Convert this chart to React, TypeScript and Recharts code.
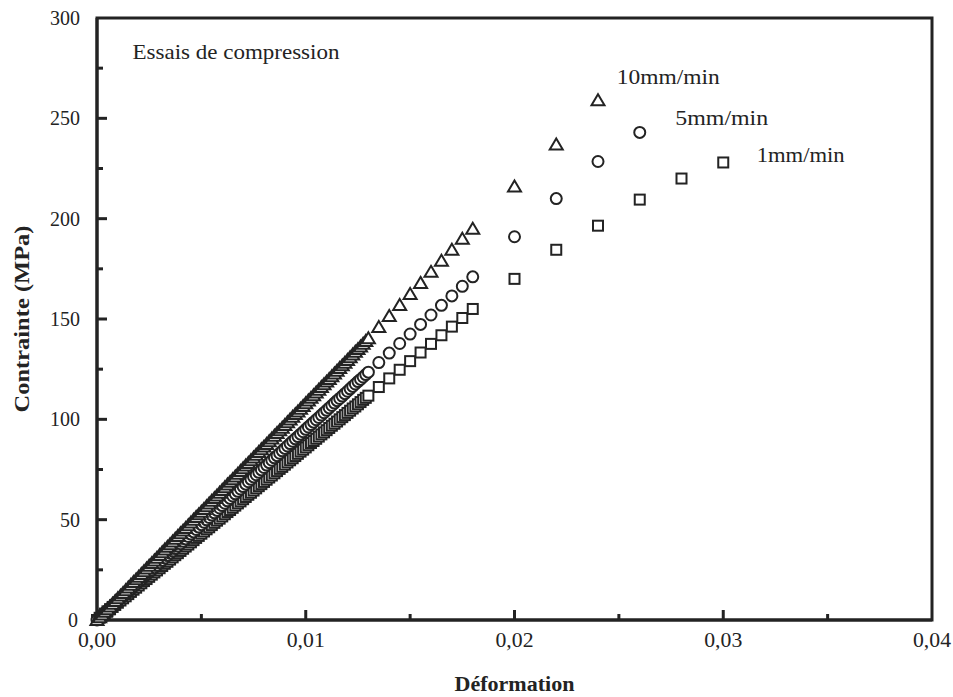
import React from 'react';
import {
  ReferenceArea,
  ReferenceDot,
  Scatter,
  ScatterChart,
  XAxis,
  YAxis,
} from 'recharts';

// strain steps of the dense recording (shared by the three speeds), one row per 0.001
const strainDense = [
  0, 0.000125, 0.00025, 0.000375, 0.0005, 0.000625, 0.00075, 0.000875,
  0.001, 0.001125, 0.00125, 0.001375, 0.0015, 0.001625, 0.00175, 0.001875,
  0.002, 0.002125, 0.00225, 0.002375, 0.0025, 0.002625, 0.00275, 0.002875,
  0.003, 0.003125, 0.00325, 0.003375, 0.0035, 0.003625, 0.00375, 0.003875,
  0.004, 0.004125, 0.00425, 0.004375, 0.0045, 0.004625, 0.00475, 0.004875,
  0.005, 0.005125, 0.00525, 0.005375, 0.0055, 0.005625, 0.00575, 0.005875,
  0.006, 0.006125, 0.00625, 0.006375, 0.0065, 0.006625, 0.00675, 0.006875,
  0.007, 0.007125, 0.00725, 0.007375, 0.0075, 0.007625, 0.00775, 0.007875,
  0.008, 0.008125, 0.00825, 0.008375, 0.0085, 0.008625, 0.00875, 0.008875,
  0.009, 0.009125, 0.00925, 0.009375, 0.0095, 0.009625, 0.00975, 0.009875,
  0.01, 0.010125, 0.01025, 0.010375, 0.0105, 0.010625, 0.01075, 0.010875,
  0.011, 0.011125, 0.01125, 0.011375, 0.0115, 0.011625, 0.01175, 0.011875,
  0.012, 0.012125, 0.01225, 0.012375, 0.0125, 0.012625, 0.01275, 0.012875,
  0.013, 0.0135, 0.014, 0.0145, 0.015, 0.0155, 0.016, 0.0165, 0.017, 0.0175, 0.018,
];

const stress10Dense = [
  0, 1.35, 2.7, 4.05, 5.4, 6.75, 8.1, 9.45,
  10.8, 12.15, 13.5, 14.85, 16.2, 17.55, 18.9, 20.25,
  21.6, 22.95, 24.3, 25.65, 27.0, 28.35, 29.7, 31.05,
  32.4, 33.75, 35.1, 36.45, 37.8, 39.15, 40.5, 41.85,
  43.2, 44.55, 45.9, 47.25, 48.6, 49.95, 51.3, 52.65,
  54.0, 55.35, 56.7, 58.05, 59.4, 60.75, 62.1, 63.45,
  64.8, 66.15, 67.5, 68.85, 70.2, 71.55, 72.9, 74.25,
  75.6, 76.95, 78.3, 79.65, 81.0, 82.35, 83.7, 85.05,
  86.4, 87.75, 89.1, 90.45, 91.8, 93.15, 94.5, 95.85,
  97.2, 98.55, 99.9, 101.25, 102.6, 103.95, 105.3, 106.65,
  108.0, 109.35, 110.7, 112.05, 113.4, 114.75, 116.1, 117.45,
  118.8, 120.15, 121.5, 122.85, 124.2, 125.55, 126.9, 128.25,
  129.6, 130.95, 132.3, 133.65, 135.0, 136.35, 137.7, 139.05,
  140.4, 146.0, 151.5, 157.0, 162.5, 168.0, 173.5, 179.0, 184.5, 190.0, 195.0,
];

const stress5Dense = [
  0, 1.2, 2.4, 3.6, 4.8, 5.9, 7.1, 8.3,
  9.5, 10.7, 11.9, 13.1, 14.3, 15.4, 16.6, 17.8,
  19.0, 20.2, 21.4, 22.6, 23.8, 24.9, 26.1, 27.3,
  28.5, 29.7, 30.9, 32.1, 33.3, 34.4, 35.6, 36.8,
  38.0, 39.2, 40.4, 41.6, 42.8, 43.9, 45.1, 46.3,
  47.5, 48.7, 49.9, 51.1, 52.3, 53.4, 54.6, 55.8,
  57.0, 58.2, 59.4, 60.6, 61.8, 62.9, 64.1, 65.3,
  66.5, 67.7, 68.9, 70.1, 71.3, 72.4, 73.6, 74.8,
  76.0, 77.2, 78.4, 79.6, 80.8, 81.9, 83.1, 84.3,
  85.5, 86.7, 87.9, 89.1, 90.3, 91.4, 92.6, 93.8,
  95.0, 96.2, 97.4, 98.6, 99.8, 100.9, 102.1, 103.3,
  104.5, 105.7, 106.9, 108.1, 109.3, 110.4, 111.6, 112.8,
  114.0, 115.2, 116.4, 117.6, 118.8, 119.9, 121.1, 122.3,
  123.5, 128.3, 133.0, 137.8, 142.5, 147.3, 152.0, 156.8, 161.5, 166.3, 171.0,
];

const stress1Dense = [
  0, 1.1, 2.2, 3.2, 4.3, 5.4, 6.5, 7.5,
  8.6, 9.7, 10.8, 11.8, 12.9, 14.0, 15.1, 16.1,
  17.2, 18.3, 19.4, 20.4, 21.5, 22.6, 23.7, 24.7,
  25.8, 26.9, 28.0, 29.0, 30.1, 31.2, 32.3, 33.3,
  34.4, 35.5, 36.6, 37.6, 38.7, 39.8, 40.9, 41.9,
  43.0, 44.1, 45.2, 46.2, 47.3, 48.4, 49.5, 50.5,
  51.6, 52.7, 53.8, 54.8, 55.9, 57.0, 58.1, 59.1,
  60.2, 61.3, 62.4, 63.4, 64.5, 65.6, 66.7, 67.7,
  68.8, 69.9, 71.0, 72.0, 73.1, 74.2, 75.3, 76.3,
  77.4, 78.5, 79.6, 80.6, 81.7, 82.8, 83.9, 84.9,
  86.0, 87.1, 88.2, 89.2, 90.3, 91.4, 92.5, 93.5,
  94.6, 95.7, 96.8, 97.8, 98.9, 100.0, 101.1, 102.1,
  103.2, 104.3, 105.4, 106.4, 107.5, 108.6, 109.7, 110.7,
  111.8, 116.1, 120.4, 124.7, 129.0, 133.3, 137.6, 141.9, 146.2, 150.5, 155.0,
];

// later, sparser points
const strain10Tail = [0.02, 0.022, 0.024];
const stress10Tail = [216, 237, 259];
const strain5Tail = [0.02, 0.022, 0.024, 0.026];
const stress5Tail = [191, 210, 228.5, 243];
const strain1Tail = [0.02, 0.022, 0.024, 0.026, 0.028, 0.03];
const stress1Tail = [170, 184.5, 196.5, 209.5, 220, 228];

const xTicks = [0, 0.005, 0.01, 0.015, 0.02, 0.025, 0.03, 0.035, 0.04];
const yTicks = [0, 25, 50, 75, 100, 125, 150, 175, 200, 225, 250, 275, 300];

const speedLabels = ['10mm/min', '5mm/min', '1mm/min'];
const labelSpots = [
  { x: 0.0249, y: 267 },
  { x: 0.0277, y: 246.5 },
  { x: 0.0316, y: 228 },
];
const labelWidths = [103, 93, 88];

const INK = '#232323';
const FONT = '"Liberation Serif", "Times New Roman", serif';

function toPoints(xs: number[], ys: number[]) {
  return xs.map((x, i) => ({ x, y: ys[i] }));
}

const data10 = toPoints(strainDense, stress10Dense).concat(toPoints(strain10Tail, stress10Tail));
const data5 = toPoints(strainDense, stress5Dense).concat(toPoints(strain5Tail, stress5Tail));
const data1 = toPoints(strainDense, stress1Dense).concat(toPoints(strain1Tail, stress1Tail));

const Triangle = (props: any) => {
  const { cx, cy } = props;
  return (
    <path
      d={`M${cx},${cy - 6} L${cx + 6.5},${cy + 5} L${cx - 6.5},${cy + 5} Z`}
      fill="#fff"
      stroke={INK}
      strokeWidth={2}
    />
  );
};

const Circle = (props: any) => (
  <circle cx={props.cx} cy={props.cy} r={5.5} fill="#fff" stroke={INK} strokeWidth={2} />
);

const Square = (props: any) => (
  <rect x={props.cx - 5} y={props.cy - 5} width={10} height={10} fill="#fff" stroke={INK} strokeWidth={2} />
);

const YTick = (props: any) => {
  const { x, y, payload } = props;
  const v = payload.value;
  const major = v % 50 === 0;
  return (
    <g>
      {v > 0 && v < 300 && (
        <line x1={x} x2={x + (major ? 10 : 6)} y1={y} y2={y} stroke={INK} strokeWidth={3} />
      )}
      {major && (
        <text x={v === 0 ? x - 19 : x - 17} y={y + 7} textAnchor="end" fontFamily={FONT} fontSize={20} fill={INK}>
          {v}
        </text>
      )}
    </g>
  );
};

const XTick = (props: any) => {
  const { x, y, payload } = props;
  const v = payload.value;
  const major = Math.round(v * 1000) % 10 === 0;
  return (
    <g>
      {v > 0 && v < 0.04 && (
        <line x1={x} x2={x} y1={y} y2={y - (major ? 10 : 6)} stroke={INK} strokeWidth={3} />
      )}
      {major && (
        <text
          x={x}
          y={y + 27}
          textAnchor="middle"
          fontFamily={FONT}
          fontSize={21}
          textLength={38}
          lengthAdjust="spacingAndGlyphs"
          fill={INK}
        >
          {v.toFixed(2).replace('.', ',')}
        </text>
      )}
    </g>
  );
};

const TextMark = (text: string, width: number) => (props: any) => (
  <text
    x={props.cx}
    y={props.cy}
    fontFamily={FONT}
    fontSize={21}
    textLength={width}
    lengthAdjust="spacingAndGlyphs"
    fill={INK}
  >
    {text}
  </text>
);

export default function App() {
  return (
    <div style={{ position: 'absolute', left: 0, top: 0, background: '#fff' }}>
      <ScatterChart
        width={953}
        height={697}
        margin={{ top: 18, right: 21, bottom: 37, left: 37 }}
      >
        <XAxis
          type="number"
          dataKey="x"
          domain={[0, 0.04]}
          ticks={xTicks}
          height={40}
          axisLine={{ stroke: INK, strokeWidth: 3 }}
          tickLine={false}
          tickSize={0}
          tickMargin={0}
          tick={<XTick />}
          interval={0}
          label={(p: any) => (
            <text
              x={p.viewBox.x + p.viewBox.width / 2}
              y={691}
              textAnchor="middle"
              fontFamily={FONT}
              fontWeight="bold"
              fontSize={20}
              textLength={120}
              lengthAdjust="spacingAndGlyphs"
              fill={INK}
            >
              Déformation
            </text>
          )}
        />
        <YAxis
          type="number"
          dataKey="y"
          domain={[0, 300]}
          ticks={yTicks}
          width={60}
          axisLine={{ stroke: INK, strokeWidth: 3 }}
          tickLine={false}
          tickSize={0}
          tickMargin={0}
          tick={<YTick />}
          interval={0}
          label={(p: any) => {
            const cy = p.viewBox.y + p.viewBox.height / 2;
            return (
              <text
                x={29}
                y={cy}
                transform={`rotate(-90, 29, ${cy})`}
                textAnchor="middle"
                fontFamily={FONT}
                fontWeight="bold"
                fontSize={21}
                textLength={187}
                lengthAdjust="spacingAndGlyphs"
                fill={INK}
              >
                Contrainte (MPa)
              </text>
            );
          }}
        />
        <ReferenceArea x1={0} x2={0.04} y1={0} y2={300} fill="none" stroke={INK} strokeWidth={3} />
        <Scatter data={data1} shape={Square} isAnimationActive={false} />
        <Scatter data={data5} shape={Circle} isAnimationActive={false} />
        <Scatter data={data10} shape={Triangle} isAnimationActive={false} />
        {speedLabels.map((t, i) => (
          <ReferenceDot key={t} x={labelSpots[i].x} y={labelSpots[i].y} shape={TextMark(t, labelWidths[i])} />
        ))}
        <ReferenceDot x={0.0017} y={279.5} shape={TextMark('Essais de compression', 207)} />
      </ScatterChart>
    </div>
  );
}
